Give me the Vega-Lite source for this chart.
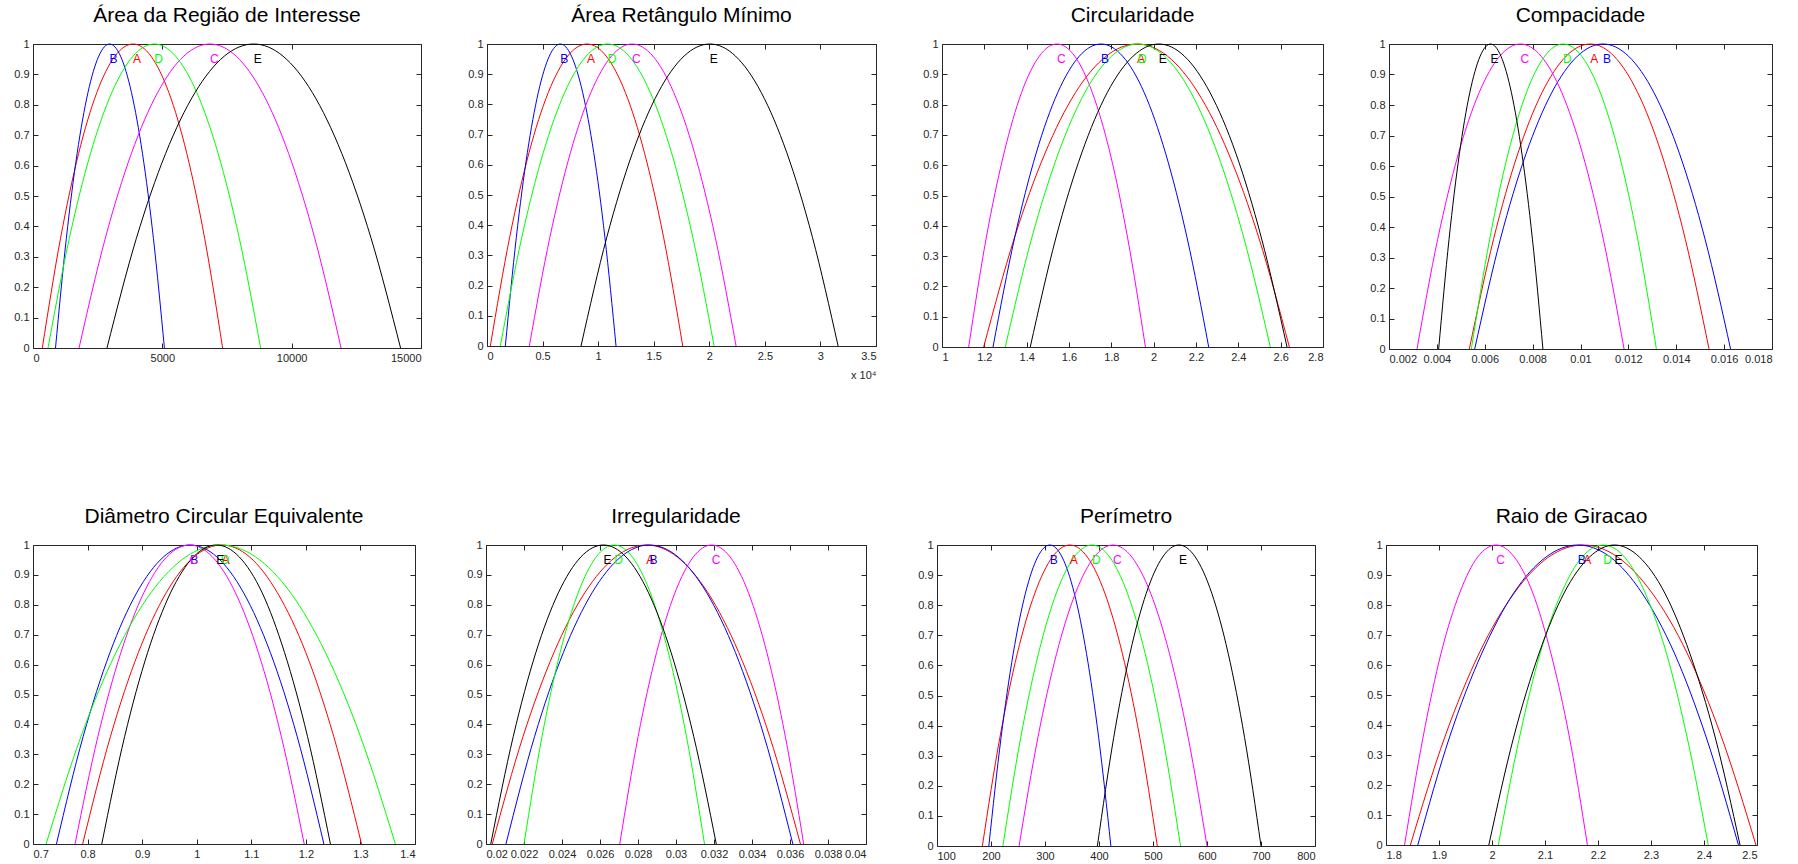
{
"$schema": "https://vega.github.io/schema/vega-lite/v6.json",
"padding": {"left": 0, "top": 4, "right": 0, "bottom": 0},
"background": "white",
"config": {
  "view": {"stroke": "#262626", "strokeWidth": 1},
  "font": "Liberation Sans",
  "title": {"font": "Liberation Sans", "fontSize": 21, "fontWeight": "normal", "color": "#000000", "anchor": "middle", "offset": 12},
  "axis": {"grid": false, "domain": false, "labelFont": "Liberation Sans", "labelFontSize": 11, "labelColor": "#262626", "tickColor": "#262626", "tickSize": -5, "labelPadding": 9, "labelOverlap": false},
  "line": {"strokeWidth": 1, "interpolate": "monotone"}
},
"data": {"values": [
{"p":1,"c":"A","x":360,"y":0},{"p":1,"c":"A","x":1062,"y":0.36},{"p":1,"c":"A","x":1764,"y":0.64},{"p":1,"c":"A","x":2466,"y":0.84},{"p":1,"c":"A","x":3168,"y":0.96},{"p":1,"c":"A","x":3870,"y":1},{"p":1,"c":"A","x":4562,"y":0.96},{"p":1,"c":"A","x":5254,"y":0.84},{"p":1,"c":"A","x":5946,"y":0.64},{"p":1,"c":"A","x":6638,"y":0.36},{"p":1,"c":"A","x":7330,"y":0},
{"p":1,"c":"B","x":870,"y":0},{"p":1,"c":"B","x":1288,"y":0.36},{"p":1,"c":"B","x":1706,"y":0.64},{"p":1,"c":"B","x":2124,"y":0.84},{"p":1,"c":"B","x":2542,"y":0.96},{"p":1,"c":"B","x":2960,"y":1},{"p":1,"c":"B","x":3384,"y":0.96},{"p":1,"c":"B","x":3808,"y":0.84},{"p":1,"c":"B","x":4232,"y":0.64},{"p":1,"c":"B","x":4656,"y":0.36},{"p":1,"c":"B","x":5080,"y":0},
{"p":1,"c":"C","x":1780,"y":0},{"p":1,"c":"C","x":2792,"y":0.36},{"p":1,"c":"C","x":3804,"y":0.64},{"p":1,"c":"C","x":4816,"y":0.84},{"p":1,"c":"C","x":5828,"y":0.96},{"p":1,"c":"C","x":6840,"y":1},{"p":1,"c":"C","x":7854,"y":0.96},{"p":1,"c":"C","x":8868,"y":0.84},{"p":1,"c":"C","x":9882,"y":0.64},{"p":1,"c":"C","x":10896,"y":0.36},{"p":1,"c":"C","x":11910,"y":0},
{"p":1,"c":"D","x":580,"y":0},{"p":1,"c":"D","x":1402,"y":0.36},{"p":1,"c":"D","x":2224,"y":0.64},{"p":1,"c":"D","x":3046,"y":0.84},{"p":1,"c":"D","x":3868,"y":0.96},{"p":1,"c":"D","x":4690,"y":1},{"p":1,"c":"D","x":5512,"y":0.96},{"p":1,"c":"D","x":6334,"y":0.84},{"p":1,"c":"D","x":7156,"y":0.64},{"p":1,"c":"D","x":7978,"y":0.36},{"p":1,"c":"D","x":8800,"y":0},
{"p":1,"c":"E","x":2860,"y":0},{"p":1,"c":"E","x":3994,"y":0.36},{"p":1,"c":"E","x":5128,"y":0.64},{"p":1,"c":"E","x":6262,"y":0.84},{"p":1,"c":"E","x":7396,"y":0.96},{"p":1,"c":"E","x":8530,"y":1},{"p":1,"c":"E","x":9666,"y":0.96},{"p":1,"c":"E","x":10802,"y":0.84},{"p":1,"c":"E","x":11938,"y":0.64},{"p":1,"c":"E","x":13074,"y":0.36},{"p":1,"c":"E","x":14210,"y":0},
{"p":2,"c":"A","x":300,"y":0},{"p":2,"c":"A","x":2040,"y":0.36},{"p":2,"c":"A","x":3780,"y":0.64},{"p":2,"c":"A","x":5520,"y":0.84},{"p":2,"c":"A","x":7260,"y":0.96},{"p":2,"c":"A","x":9000,"y":1},{"p":2,"c":"A","x":10722,"y":0.96},{"p":2,"c":"A","x":12444,"y":0.84},{"p":2,"c":"A","x":14166,"y":0.64},{"p":2,"c":"A","x":15888,"y":0.36},{"p":2,"c":"A","x":17610,"y":0},
{"p":2,"c":"B","x":1650,"y":0},{"p":2,"c":"B","x":2640,"y":0.36},{"p":2,"c":"B","x":3630,"y":0.64},{"p":2,"c":"B","x":4620,"y":0.84},{"p":2,"c":"B","x":5610,"y":0.96},{"p":2,"c":"B","x":6600,"y":1},{"p":2,"c":"B","x":7602,"y":0.96},{"p":2,"c":"B","x":8604,"y":0.84},{"p":2,"c":"B","x":9606,"y":0.64},{"p":2,"c":"B","x":10608,"y":0.36},{"p":2,"c":"B","x":11610,"y":0},
{"p":2,"c":"C","x":3810,"y":0},{"p":2,"c":"C","x":5658,"y":0.36},{"p":2,"c":"C","x":7506,"y":0.64},{"p":2,"c":"C","x":9354,"y":0.84},{"p":2,"c":"C","x":11202,"y":0.96},{"p":2,"c":"C","x":13050,"y":1},{"p":2,"c":"C","x":14922,"y":0.96},{"p":2,"c":"C","x":16794,"y":0.84},{"p":2,"c":"C","x":18666,"y":0.64},{"p":2,"c":"C","x":20538,"y":0.36},{"p":2,"c":"C","x":22410,"y":0},
{"p":2,"c":"D","x":1200,"y":0},{"p":2,"c":"D","x":3132,"y":0.36},{"p":2,"c":"D","x":5064,"y":0.64},{"p":2,"c":"D","x":6996,"y":0.84},{"p":2,"c":"D","x":8928,"y":0.96},{"p":2,"c":"D","x":10860,"y":1},{"p":2,"c":"D","x":12774,"y":0.96},{"p":2,"c":"D","x":14688,"y":0.84},{"p":2,"c":"D","x":16602,"y":0.64},{"p":2,"c":"D","x":18516,"y":0.36},{"p":2,"c":"D","x":20430,"y":0},
{"p":2,"c":"E","x":8460,"y":0},{"p":2,"c":"E","x":10778,"y":0.36},{"p":2,"c":"E","x":13096,"y":0.64},{"p":2,"c":"E","x":15414,"y":0.84},{"p":2,"c":"E","x":17732,"y":0.96},{"p":2,"c":"E","x":20050,"y":1},{"p":2,"c":"E","x":22358,"y":0.96},{"p":2,"c":"E","x":24666,"y":0.84},{"p":2,"c":"E","x":26974,"y":0.64},{"p":2,"c":"E","x":29282,"y":0.36},{"p":2,"c":"E","x":31590,"y":0},
{"p":3,"c":"A","x":1.197,"y":0},{"p":3,"c":"A","x":1.342,"y":0.36},{"p":3,"c":"A","x":1.487,"y":0.64},{"p":3,"c":"A","x":1.631,"y":0.84},{"p":3,"c":"A","x":1.776,"y":0.96},{"p":3,"c":"A","x":1.921,"y":1},{"p":3,"c":"A","x":2.065,"y":0.96},{"p":3,"c":"A","x":2.209,"y":0.84},{"p":3,"c":"A","x":2.353,"y":0.64},{"p":3,"c":"A","x":2.497,"y":0.36},{"p":3,"c":"A","x":2.641,"y":0},
{"p":3,"c":"B","x":1.241,"y":0},{"p":3,"c":"B","x":1.343,"y":0.36},{"p":3,"c":"B","x":1.445,"y":0.64},{"p":3,"c":"B","x":1.547,"y":0.84},{"p":3,"c":"B","x":1.649,"y":0.96},{"p":3,"c":"B","x":1.751,"y":1},{"p":3,"c":"B","x":1.853,"y":0.96},{"p":3,"c":"B","x":1.955,"y":0.84},{"p":3,"c":"B","x":2.056,"y":0.64},{"p":3,"c":"B","x":2.158,"y":0.36},{"p":3,"c":"B","x":2.26,"y":0},
{"p":3,"c":"C","x":1.126,"y":0},{"p":3,"c":"C","x":1.209,"y":0.36},{"p":3,"c":"C","x":1.293,"y":0.64},{"p":3,"c":"C","x":1.376,"y":0.84},{"p":3,"c":"C","x":1.46,"y":0.96},{"p":3,"c":"C","x":1.543,"y":1},{"p":3,"c":"C","x":1.627,"y":0.96},{"p":3,"c":"C","x":1.71,"y":0.84},{"p":3,"c":"C","x":1.794,"y":0.64},{"p":3,"c":"C","x":1.877,"y":0.36},{"p":3,"c":"C","x":1.961,"y":0},
{"p":3,"c":"D","x":1.299,"y":0},{"p":3,"c":"D","x":1.424,"y":0.36},{"p":3,"c":"D","x":1.55,"y":0.64},{"p":3,"c":"D","x":1.675,"y":0.84},{"p":3,"c":"D","x":1.801,"y":0.96},{"p":3,"c":"D","x":1.926,"y":1},{"p":3,"c":"D","x":2.051,"y":0.96},{"p":3,"c":"D","x":2.176,"y":0.84},{"p":3,"c":"D","x":2.301,"y":0.64},{"p":3,"c":"D","x":2.426,"y":0.36},{"p":3,"c":"D","x":2.551,"y":0},
{"p":3,"c":"E","x":1.417,"y":0},{"p":3,"c":"E","x":1.538,"y":0.36},{"p":3,"c":"E","x":1.66,"y":0.64},{"p":3,"c":"E","x":1.781,"y":0.84},{"p":3,"c":"E","x":1.903,"y":0.96},{"p":3,"c":"E","x":2.024,"y":1},{"p":3,"c":"E","x":2.145,"y":0.96},{"p":3,"c":"E","x":2.266,"y":0.84},{"p":3,"c":"E","x":2.388,"y":0.64},{"p":3,"c":"E","x":2.509,"y":0.36},{"p":3,"c":"E","x":2.63,"y":0},
{"p":4,"c":"A","x":0.005356,"y":0},{"p":4,"c":"A","x":0.006367,"y":0.36},{"p":4,"c":"A","x":0.007378,"y":0.64},{"p":4,"c":"A","x":0.008388,"y":0.84},{"p":4,"c":"A","x":0.009399,"y":0.96},{"p":4,"c":"A","x":0.01041,"y":1},{"p":4,"c":"A","x":0.011402,"y":0.96},{"p":4,"c":"A","x":0.012394,"y":0.84},{"p":4,"c":"A","x":0.013386,"y":0.64},{"p":4,"c":"A","x":0.014378,"y":0.36},{"p":4,"c":"A","x":0.01537,"y":0},
{"p":4,"c":"B","x":0.00558,"y":0},{"p":4,"c":"B","x":0.006652,"y":0.36},{"p":4,"c":"B","x":0.007724,"y":0.64},{"p":4,"c":"B","x":0.008796,"y":0.84},{"p":4,"c":"B","x":0.009868,"y":0.96},{"p":4,"c":"B","x":0.01094,"y":1},{"p":4,"c":"B","x":0.012006,"y":0.96},{"p":4,"c":"B","x":0.013072,"y":0.84},{"p":4,"c":"B","x":0.014138,"y":0.64},{"p":4,"c":"B","x":0.015204,"y":0.36},{"p":4,"c":"B","x":0.01627,"y":0},
{"p":4,"c":"C","x":0.00317,"y":0},{"p":4,"c":"C","x":0.004034,"y":0.36},{"p":4,"c":"C","x":0.004898,"y":0.64},{"p":4,"c":"C","x":0.005762,"y":0.84},{"p":4,"c":"C","x":0.006626,"y":0.96},{"p":4,"c":"C","x":0.00749,"y":1},{"p":4,"c":"C","x":0.008356,"y":0.96},{"p":4,"c":"C","x":0.009222,"y":0.84},{"p":4,"c":"C","x":0.010088,"y":0.64},{"p":4,"c":"C","x":0.010954,"y":0.36},{"p":4,"c":"C","x":0.01182,"y":0},
{"p":4,"c":"D","x":0.00544,"y":0},{"p":4,"c":"D","x":0.006206,"y":0.36},{"p":4,"c":"D","x":0.006972,"y":0.64},{"p":4,"c":"D","x":0.007738,"y":0.84},{"p":4,"c":"D","x":0.008504,"y":0.96},{"p":4,"c":"D","x":0.00927,"y":1},{"p":4,"c":"D","x":0.01005,"y":0.96},{"p":4,"c":"D","x":0.01083,"y":0.84},{"p":4,"c":"D","x":0.01161,"y":0.64},{"p":4,"c":"D","x":0.01239,"y":0.36},{"p":4,"c":"D","x":0.01317,"y":0},
{"p":4,"c":"E","x":0.004075,"y":0},{"p":4,"c":"E","x":0.004508,"y":0.36},{"p":4,"c":"E","x":0.004941,"y":0.64},{"p":4,"c":"E","x":0.005374,"y":0.84},{"p":4,"c":"E","x":0.005807,"y":0.96},{"p":4,"c":"E","x":0.00624,"y":1},{"p":4,"c":"E","x":0.006678,"y":0.96},{"p":4,"c":"E","x":0.007116,"y":0.84},{"p":4,"c":"E","x":0.007554,"y":0.64},{"p":4,"c":"E","x":0.007992,"y":0.36},{"p":4,"c":"E","x":0.00843,"y":0},
{"p":5,"c":"A","x":0.791,"y":0},{"p":5,"c":"A","x":0.842,"y":0.36},{"p":5,"c":"A","x":0.893,"y":0.64},{"p":5,"c":"A","x":0.944,"y":0.84},{"p":5,"c":"A","x":0.995,"y":0.96},{"p":5,"c":"A","x":1.046,"y":1},{"p":5,"c":"A","x":1.097,"y":0.96},{"p":5,"c":"A","x":1.148,"y":0.84},{"p":5,"c":"A","x":1.2,"y":0.64},{"p":5,"c":"A","x":1.251,"y":0.36},{"p":5,"c":"A","x":1.302,"y":0},
{"p":5,"c":"B","x":0.743,"y":0},{"p":5,"c":"B","x":0.792,"y":0.36},{"p":5,"c":"B","x":0.841,"y":0.64},{"p":5,"c":"B","x":0.89,"y":0.84},{"p":5,"c":"B","x":0.939,"y":0.96},{"p":5,"c":"B","x":0.988,"y":1},{"p":5,"c":"B","x":1.037,"y":0.96},{"p":5,"c":"B","x":1.086,"y":0.84},{"p":5,"c":"B","x":1.135,"y":0.64},{"p":5,"c":"B","x":1.184,"y":0.36},{"p":5,"c":"B","x":1.233,"y":0},
{"p":5,"c":"C","x":0.777,"y":0},{"p":5,"c":"C","x":0.819,"y":0.36},{"p":5,"c":"C","x":0.861,"y":0.64},{"p":5,"c":"C","x":0.903,"y":0.84},{"p":5,"c":"C","x":0.945,"y":0.96},{"p":5,"c":"C","x":0.987,"y":1},{"p":5,"c":"C","x":1.029,"y":0.96},{"p":5,"c":"C","x":1.071,"y":0.84},{"p":5,"c":"C","x":1.113,"y":0.64},{"p":5,"c":"C","x":1.155,"y":0.36},{"p":5,"c":"C","x":1.197,"y":0},
{"p":5,"c":"D","x":0.724,"y":0},{"p":5,"c":"D","x":0.788,"y":0.36},{"p":5,"c":"D","x":0.852,"y":0.64},{"p":5,"c":"D","x":0.916,"y":0.84},{"p":5,"c":"D","x":0.98,"y":0.96},{"p":5,"c":"D","x":1.044,"y":1},{"p":5,"c":"D","x":1.108,"y":0.96},{"p":5,"c":"D","x":1.172,"y":0.84},{"p":5,"c":"D","x":1.236,"y":0.64},{"p":5,"c":"D","x":1.3,"y":0.36},{"p":5,"c":"D","x":1.364,"y":0},
{"p":5,"c":"E","x":0.826,"y":0},{"p":5,"c":"E","x":0.868,"y":0.36},{"p":5,"c":"E","x":0.91,"y":0.64},{"p":5,"c":"E","x":0.952,"y":0.84},{"p":5,"c":"E","x":0.994,"y":0.96},{"p":5,"c":"E","x":1.036,"y":1},{"p":5,"c":"E","x":1.078,"y":0.96},{"p":5,"c":"E","x":1.12,"y":0.84},{"p":5,"c":"E","x":1.161,"y":0.64},{"p":5,"c":"E","x":1.203,"y":0.36},{"p":5,"c":"E","x":1.245,"y":0},
{"p":6,"c":"A","x":0.02033,"y":0},{"p":6,"c":"A","x":0.021952,"y":0.36},{"p":6,"c":"A","x":0.023574,"y":0.64},{"p":6,"c":"A","x":0.025196,"y":0.84},{"p":6,"c":"A","x":0.026818,"y":0.96},{"p":6,"c":"A","x":0.02844,"y":1},{"p":6,"c":"A","x":0.030062,"y":0.96},{"p":6,"c":"A","x":0.031684,"y":0.84},{"p":6,"c":"A","x":0.033306,"y":0.64},{"p":6,"c":"A","x":0.034928,"y":0.36},{"p":6,"c":"A","x":0.03655,"y":0},
{"p":6,"c":"B","x":0.02105,"y":0},{"p":6,"c":"B","x":0.02256,"y":0.36},{"p":6,"c":"B","x":0.02407,"y":0.64},{"p":6,"c":"B","x":0.02558,"y":0.84},{"p":6,"c":"B","x":0.02709,"y":0.96},{"p":6,"c":"B","x":0.0286,"y":1},{"p":6,"c":"B","x":0.03011,"y":0.96},{"p":6,"c":"B","x":0.03162,"y":0.84},{"p":6,"c":"B","x":0.03313,"y":0.64},{"p":6,"c":"B","x":0.03464,"y":0.36},{"p":6,"c":"B","x":0.03615,"y":0},
{"p":6,"c":"C","x":0.02704,"y":0},{"p":6,"c":"C","x":0.028008,"y":0.36},{"p":6,"c":"C","x":0.028976,"y":0.64},{"p":6,"c":"C","x":0.029944,"y":0.84},{"p":6,"c":"C","x":0.030912,"y":0.96},{"p":6,"c":"C","x":0.03188,"y":1},{"p":6,"c":"C","x":0.032848,"y":0.96},{"p":6,"c":"C","x":0.033816,"y":0.84},{"p":6,"c":"C","x":0.034784,"y":0.64},{"p":6,"c":"C","x":0.035752,"y":0.36},{"p":6,"c":"C","x":0.03672,"y":0},
{"p":6,"c":"D","x":0.022,"y":0},{"p":6,"c":"D","x":0.02295,"y":0.36},{"p":6,"c":"D","x":0.0239,"y":0.64},{"p":6,"c":"D","x":0.02485,"y":0.84},{"p":6,"c":"D","x":0.0258,"y":0.96},{"p":6,"c":"D","x":0.02675,"y":1},{"p":6,"c":"D","x":0.0277,"y":0.96},{"p":6,"c":"D","x":0.02865,"y":0.84},{"p":6,"c":"D","x":0.0296,"y":0.64},{"p":6,"c":"D","x":0.03055,"y":0.36},{"p":6,"c":"D","x":0.0315,"y":0},
{"p":6,"c":"E","x":0.02025,"y":0},{"p":6,"c":"E","x":0.021436,"y":0.36},{"p":6,"c":"E","x":0.022622,"y":0.64},{"p":6,"c":"E","x":0.023808,"y":0.84},{"p":6,"c":"E","x":0.024994,"y":0.96},{"p":6,"c":"E","x":0.02618,"y":1},{"p":6,"c":"E","x":0.027368,"y":0.96},{"p":6,"c":"E","x":0.028556,"y":0.84},{"p":6,"c":"E","x":0.029744,"y":0.64},{"p":6,"c":"E","x":0.030932,"y":0.36},{"p":6,"c":"E","x":0.03212,"y":0},
{"p":7,"c":"A","x":184,"y":0},{"p":7,"c":"A","x":216.4,"y":0.36},{"p":7,"c":"A","x":248.8,"y":0.64},{"p":7,"c":"A","x":281.2,"y":0.84},{"p":7,"c":"A","x":313.6,"y":0.96},{"p":7,"c":"A","x":346,"y":1},{"p":7,"c":"A","x":378.4,"y":0.96},{"p":7,"c":"A","x":410.8,"y":0.84},{"p":7,"c":"A","x":443.2,"y":0.64},{"p":7,"c":"A","x":475.6,"y":0.36},{"p":7,"c":"A","x":508,"y":0},
{"p":7,"c":"B","x":196,"y":0},{"p":7,"c":"B","x":218.6,"y":0.36},{"p":7,"c":"B","x":241.2,"y":0.64},{"p":7,"c":"B","x":263.8,"y":0.84},{"p":7,"c":"B","x":286.4,"y":0.96},{"p":7,"c":"B","x":309,"y":1},{"p":7,"c":"B","x":331.6,"y":0.96},{"p":7,"c":"B","x":354.2,"y":0.84},{"p":7,"c":"B","x":376.8,"y":0.64},{"p":7,"c":"B","x":399.4,"y":0.36},{"p":7,"c":"B","x":422,"y":0},
{"p":7,"c":"C","x":252,"y":0},{"p":7,"c":"C","x":286.8,"y":0.36},{"p":7,"c":"C","x":321.6,"y":0.64},{"p":7,"c":"C","x":356.4,"y":0.84},{"p":7,"c":"C","x":391.2,"y":0.96},{"p":7,"c":"C","x":426,"y":1},{"p":7,"c":"C","x":460.8,"y":0.96},{"p":7,"c":"C","x":495.6,"y":0.84},{"p":7,"c":"C","x":530.4,"y":0.64},{"p":7,"c":"C","x":565.2,"y":0.36},{"p":7,"c":"C","x":600,"y":0},
{"p":7,"c":"D","x":222,"y":0},{"p":7,"c":"D","x":255,"y":0.36},{"p":7,"c":"D","x":288,"y":0.64},{"p":7,"c":"D","x":321,"y":0.84},{"p":7,"c":"D","x":354,"y":0.96},{"p":7,"c":"D","x":387,"y":1},{"p":7,"c":"D","x":419.8,"y":0.96},{"p":7,"c":"D","x":452.6,"y":0.84},{"p":7,"c":"D","x":485.4,"y":0.64},{"p":7,"c":"D","x":518.2,"y":0.36},{"p":7,"c":"D","x":551,"y":0},
{"p":7,"c":"E","x":397,"y":0},{"p":7,"c":"E","x":427.2,"y":0.36},{"p":7,"c":"E","x":457.4,"y":0.64},{"p":7,"c":"E","x":487.6,"y":0.84},{"p":7,"c":"E","x":517.8,"y":0.96},{"p":7,"c":"E","x":548,"y":1},{"p":7,"c":"E","x":578.4,"y":0.96},{"p":7,"c":"E","x":608.8,"y":0.84},{"p":7,"c":"E","x":639.2,"y":0.64},{"p":7,"c":"E","x":669.6,"y":0.36},{"p":7,"c":"E","x":700,"y":0},
{"p":8,"c":"A","x":1.846,"y":0},{"p":8,"c":"A","x":1.911,"y":0.36},{"p":8,"c":"A","x":1.976,"y":0.64},{"p":8,"c":"A","x":2.042,"y":0.84},{"p":8,"c":"A","x":2.107,"y":0.96},{"p":8,"c":"A","x":2.172,"y":1},{"p":8,"c":"A","x":2.237,"y":0.96},{"p":8,"c":"A","x":2.302,"y":0.84},{"p":8,"c":"A","x":2.368,"y":0.64},{"p":8,"c":"A","x":2.433,"y":0.36},{"p":8,"c":"A","x":2.498,"y":0},
{"p":8,"c":"B","x":1.86,"y":0},{"p":8,"c":"B","x":1.92,"y":0.36},{"p":8,"c":"B","x":1.981,"y":0.64},{"p":8,"c":"B","x":2.041,"y":0.84},{"p":8,"c":"B","x":2.102,"y":0.96},{"p":8,"c":"B","x":2.162,"y":1},{"p":8,"c":"B","x":2.223,"y":0.96},{"p":8,"c":"B","x":2.283,"y":0.84},{"p":8,"c":"B","x":2.344,"y":0.64},{"p":8,"c":"B","x":2.404,"y":0.36},{"p":8,"c":"B","x":2.465,"y":0},
{"p":8,"c":"C","x":1.835,"y":0},{"p":8,"c":"C","x":1.87,"y":0.36},{"p":8,"c":"C","x":1.904,"y":0.64},{"p":8,"c":"C","x":1.939,"y":0.84},{"p":8,"c":"C","x":1.973,"y":0.96},{"p":8,"c":"C","x":2.008,"y":1},{"p":8,"c":"C","x":2.042,"y":0.96},{"p":8,"c":"C","x":2.077,"y":0.84},{"p":8,"c":"C","x":2.111,"y":0.64},{"p":8,"c":"C","x":2.146,"y":0.36},{"p":8,"c":"C","x":2.18,"y":0},
{"p":8,"c":"D","x":2.012,"y":0},{"p":8,"c":"D","x":2.052,"y":0.36},{"p":8,"c":"D","x":2.091,"y":0.64},{"p":8,"c":"D","x":2.131,"y":0.84},{"p":8,"c":"D","x":2.17,"y":0.96},{"p":8,"c":"D","x":2.21,"y":1},{"p":8,"c":"D","x":2.25,"y":0.96},{"p":8,"c":"D","x":2.289,"y":0.84},{"p":8,"c":"D","x":2.329,"y":0.64},{"p":8,"c":"D","x":2.368,"y":0.36},{"p":8,"c":"D","x":2.408,"y":0},
{"p":8,"c":"E","x":1.994,"y":0},{"p":8,"c":"E","x":2.041,"y":0.36},{"p":8,"c":"E","x":2.089,"y":0.64},{"p":8,"c":"E","x":2.136,"y":0.84},{"p":8,"c":"E","x":2.184,"y":0.96},{"p":8,"c":"E","x":2.231,"y":1},{"p":8,"c":"E","x":2.278,"y":0.96},{"p":8,"c":"E","x":2.326,"y":0.84},{"p":8,"c":"E","x":2.373,"y":0.64},{"p":8,"c":"E","x":2.421,"y":0.36},{"p":8,"c":"E","x":2.468,"y":0}
]},
"spacing": 124,
"vconcat": [
{"spacing": 66, "bounds": "flush", "hconcat": [
{"title": "Área da Região de Interesse", "width": 388, "height": 304,
 "transform": [{"filter": "datum.p == 1"}],
 "encoding": {"color": {"field": "c", "type": "nominal", "legend": null, "scale": {"domain": ["A","B","C","D","E"], "range": ["#ff0000","#0000ff","#ff00ff","#00ff00","#000000"]}}},
 "layer": [
  {"mark": "line", "encoding": {
    "x": {"field": "x", "type": "quantitative", "scale": {"domain": [0, 15000], "nice": false, "zero": false}, "axis": {"title": null, "values": [0,5000,10000,15000], "format": "d"}},
    "y": {"field": "y", "type": "quantitative", "scale": {"domain": [0, 1], "nice": false}, "axis": {"title": null, "values": [0,0.1,0.2,0.3,0.4,0.5,0.6,0.7,0.8,0.9,1], "format": "~g", "minExtent": 32, "maxExtent": 32}}}},
  {"transform": [{"filter": "datum.y == 1"}], "mark": {"type": "text", "align": "left", "baseline": "middle", "dy": 15, "fontSize": 12, "font": "Liberation Sans"}, "encoding": {
    "x": {"field": "x", "type": "quantitative", "axis": {"title": null, "orient": "top", "labels": false, "values": [0,5000,10000,15000], "minExtent": 0, "maxExtent": 0}},
    "y": {"field": "y", "type": "quantitative", "axis": {"title": null, "orient": "right", "labels": false, "values": [0,0.1,0.2,0.3,0.4,0.5,0.6,0.7,0.8,0.9,1], "minExtent": 0, "maxExtent": 0}},
    "text": {"field": "c"}}}
 ],
 "resolve": {"axis": {"x": "independent", "y": "independent"}}},
{"title": "Área Retângulo Mínimo", "width": 389, "height": 302,
 "transform": [{"filter": "datum.p == 2"}],
 "encoding": {"color": {"field": "c", "type": "nominal", "legend": null, "scale": {"domain": ["A","B","C","D","E"], "range": ["#ff0000","#0000ff","#ff00ff","#00ff00","#000000"]}}},
 "layer": [
  {"mark": "line", "encoding": {
    "x": {"field": "x", "type": "quantitative", "scale": {"domain": [0, 35000], "nice": false, "zero": false}, "axis": {"title": "x 10⁴", "titleAnchor": "end", "titleFontSize": 11, "titleFontWeight": "normal", "titleColor": "#262626", "titleFont": "Liberation Sans", "titlePadding": 8, "values": [0,5000,10000,15000,20000,25000,30000,35000], "labelExpr": "format(datum.value / 10000, '~g')"}},
    "y": {"field": "y", "type": "quantitative", "scale": {"domain": [0, 1], "nice": false}, "axis": {"title": null, "values": [0,0.1,0.2,0.3,0.4,0.5,0.6,0.7,0.8,0.9,1], "format": "~g", "minExtent": 31, "maxExtent": 31}}}},
  {"transform": [{"filter": "datum.y == 1"}], "mark": {"type": "text", "align": "left", "baseline": "middle", "dy": 15, "fontSize": 12, "font": "Liberation Sans"}, "encoding": {
    "x": {"field": "x", "type": "quantitative", "axis": {"title": null, "orient": "top", "labels": false, "values": [0,5000,10000,15000,20000,25000,30000,35000], "minExtent": 0, "maxExtent": 0}},
    "y": {"field": "y", "type": "quantitative", "axis": {"title": null, "orient": "right", "labels": false, "values": [0,0.1,0.2,0.3,0.4,0.5,0.6,0.7,0.8,0.9,1], "minExtent": 0, "maxExtent": 0}},
    "text": {"field": "c"}}}
 ],
 "resolve": {"axis": {"x": "independent", "y": "independent"}}},
{"title": "Circularidade", "width": 381, "height": 303,
 "transform": [{"filter": "datum.p == 3"}],
 "encoding": {"color": {"field": "c", "type": "nominal", "legend": null, "scale": {"domain": ["A","B","C","D","E"], "range": ["#ff0000","#0000ff","#ff00ff","#00ff00","#000000"]}}},
 "layer": [
  {"mark": "line", "encoding": {
    "x": {"field": "x", "type": "quantitative", "scale": {"domain": [1, 2.8], "nice": false, "zero": false}, "axis": {"title": null, "values": [1,1.2,1.4,1.6,1.8,2,2.2,2.4,2.6,2.8], "format": "~g"}},
    "y": {"field": "y", "type": "quantitative", "scale": {"domain": [0, 1], "nice": false}, "axis": {"title": null, "values": [0,0.1,0.2,0.3,0.4,0.5,0.6,0.7,0.8,0.9,1], "format": "~g", "minExtent": 31, "maxExtent": 31}}}},
  {"transform": [{"filter": "datum.y == 1"}], "mark": {"type": "text", "align": "left", "baseline": "middle", "dy": 15, "fontSize": 12, "font": "Liberation Sans"}, "encoding": {
    "x": {"field": "x", "type": "quantitative", "axis": {"title": null, "orient": "top", "labels": false, "values": [1,1.2,1.4,1.6,1.8,2,2.2,2.4,2.6,2.8], "minExtent": 0, "maxExtent": 0}},
    "y": {"field": "y", "type": "quantitative", "axis": {"title": null, "orient": "right", "labels": false, "values": [0,0.1,0.2,0.3,0.4,0.5,0.6,0.7,0.8,0.9,1], "minExtent": 0, "maxExtent": 0}},
    "text": {"field": "c"}}}
 ],
 "resolve": {"axis": {"x": "independent", "y": "independent"}}},
{"title": "Compacidade", "width": 383, "height": 305,
 "transform": [{"filter": "datum.p == 4"}],
 "encoding": {"color": {"field": "c", "type": "nominal", "legend": null, "scale": {"domain": ["A","B","C","D","E"], "range": ["#ff0000","#0000ff","#ff00ff","#00ff00","#000000"]}}},
 "layer": [
  {"mark": "line", "encoding": {
    "x": {"field": "x", "type": "quantitative", "scale": {"domain": [0.002, 0.018], "nice": false, "zero": false}, "axis": {"title": null, "values": [0.002,0.004,0.006,0.008,0.01,0.012,0.014,0.016,0.018], "format": "~g"}},
    "y": {"field": "y", "type": "quantitative", "scale": {"domain": [0, 1], "nice": false}, "axis": {"title": null, "values": [0,0.1,0.2,0.3,0.4,0.5,0.6,0.7,0.8,0.9,1], "format": "~g", "minExtent": 31, "maxExtent": 31}}}},
  {"transform": [{"filter": "datum.y == 1"}], "mark": {"type": "text", "align": "left", "baseline": "middle", "dy": 15, "fontSize": 12, "font": "Liberation Sans"}, "encoding": {
    "x": {"field": "x", "type": "quantitative", "axis": {"title": null, "orient": "top", "labels": false, "values": [0.002,0.004,0.006,0.008,0.01,0.012,0.014,0.016,0.018], "minExtent": 0, "maxExtent": 0}},
    "y": {"field": "y", "type": "quantitative", "axis": {"title": null, "orient": "right", "labels": false, "values": [0,0.1,0.2,0.3,0.4,0.5,0.6,0.7,0.8,0.9,1], "minExtent": 0, "maxExtent": 0}},
    "text": {"field": "c"}}}
 ],
 "resolve": {"axis": {"x": "independent", "y": "independent"}}}
]},
{"spacing": 71, "bounds": "flush", "hconcat": [
{"title": "Diâmetro Circular Equivalente", "width": 382, "height": 299,
 "transform": [{"filter": "datum.p == 5"}],
 "encoding": {"color": {"field": "c", "type": "nominal", "legend": null, "scale": {"domain": ["A","B","C","D","E"], "range": ["#ff0000","#0000ff","#ff00ff","#00ff00","#000000"]}}},
 "layer": [
  {"mark": "line", "encoding": {
    "x": {"field": "x", "type": "quantitative", "scale": {"domain": [0.7, 1.4], "nice": false, "zero": false}, "axis": {"title": null, "values": [0.7,0.8,0.9,1,1.1,1.2,1.3,1.4], "format": "~g"}},
    "y": {"field": "y", "type": "quantitative", "scale": {"domain": [0, 1], "nice": false}, "axis": {"title": null, "values": [0,0.1,0.2,0.3,0.4,0.5,0.6,0.7,0.8,0.9,1], "format": "~g", "minExtent": 32, "maxExtent": 32}}}},
  {"transform": [{"filter": "datum.y == 1"}], "mark": {"type": "text", "align": "left", "baseline": "middle", "dy": 15, "fontSize": 12, "font": "Liberation Sans"}, "encoding": {
    "x": {"field": "x", "type": "quantitative", "axis": {"title": null, "orient": "top", "labels": false, "values": [0.7,0.8,0.9,1,1.1,1.2,1.3,1.4], "minExtent": 0, "maxExtent": 0}},
    "y": {"field": "y", "type": "quantitative", "axis": {"title": null, "orient": "right", "labels": false, "values": [0,0.1,0.2,0.3,0.4,0.5,0.6,0.7,0.8,0.9,1], "minExtent": 0, "maxExtent": 0}},
    "text": {"field": "c"}}}
 ],
 "resolve": {"axis": {"x": "independent", "y": "independent"}}},
{"title": "Irregularidade", "width": 380, "height": 299,
 "transform": [{"filter": "datum.p == 6"}],
 "encoding": {"color": {"field": "c", "type": "nominal", "legend": null, "scale": {"domain": ["A","B","C","D","E"], "range": ["#ff0000","#0000ff","#ff00ff","#00ff00","#000000"]}}},
 "layer": [
  {"mark": "line", "encoding": {
    "x": {"field": "x", "type": "quantitative", "scale": {"domain": [0.02, 0.04], "nice": false, "zero": false}, "axis": {"title": null, "values": [0.02,0.022,0.024,0.026,0.028,0.03,0.032,0.034,0.036,0.038,0.04], "format": "~g"}},
    "y": {"field": "y", "type": "quantitative", "scale": {"domain": [0, 1], "nice": false}, "axis": {"title": null, "values": [0,0.1,0.2,0.3,0.4,0.5,0.6,0.7,0.8,0.9,1], "format": "~g", "minExtent": 31, "maxExtent": 31}}}},
  {"transform": [{"filter": "datum.y == 1"}], "mark": {"type": "text", "align": "left", "baseline": "middle", "dy": 15, "fontSize": 12, "font": "Liberation Sans"}, "encoding": {
    "x": {"field": "x", "type": "quantitative", "axis": {"title": null, "orient": "top", "labels": false, "values": [0.02,0.022,0.024,0.026,0.028,0.03,0.032,0.034,0.036,0.038,0.04], "minExtent": 0, "maxExtent": 0}},
    "y": {"field": "y", "type": "quantitative", "axis": {"title": null, "orient": "right", "labels": false, "values": [0,0.1,0.2,0.3,0.4,0.5,0.6,0.7,0.8,0.9,1], "minExtent": 0, "maxExtent": 0}},
    "text": {"field": "c"}}}
 ],
 "resolve": {"axis": {"x": "independent", "y": "independent"}}},
{"title": "Perímetro", "width": 378, "height": 301,
 "transform": [{"filter": "datum.p == 7"}],
 "encoding": {"color": {"field": "c", "type": "nominal", "legend": null, "scale": {"domain": ["A","B","C","D","E"], "range": ["#ff0000","#0000ff","#ff00ff","#00ff00","#000000"]}}},
 "layer": [
  {"mark": "line", "encoding": {
    "x": {"field": "x", "type": "quantitative", "scale": {"domain": [100, 800], "nice": false, "zero": false}, "axis": {"title": null, "values": [100,200,300,400,500,600,700,800], "format": "d"}},
    "y": {"field": "y", "type": "quantitative", "scale": {"domain": [0, 1], "nice": false}, "axis": {"title": null, "values": [0,0.1,0.2,0.3,0.4,0.5,0.6,0.7,0.8,0.9,1], "format": "~g", "minExtent": 31, "maxExtent": 31}}}},
  {"transform": [{"filter": "datum.y == 1"}], "mark": {"type": "text", "align": "left", "baseline": "middle", "dy": 15, "fontSize": 12, "font": "Liberation Sans"}, "encoding": {
    "x": {"field": "x", "type": "quantitative", "axis": {"title": null, "orient": "top", "labels": false, "values": [100,200,300,400,500,600,700,800], "minExtent": 0, "maxExtent": 0}},
    "y": {"field": "y", "type": "quantitative", "axis": {"title": null, "orient": "right", "labels": false, "values": [0,0.1,0.2,0.3,0.4,0.5,0.6,0.7,0.8,0.9,1], "minExtent": 0, "maxExtent": 0}},
    "text": {"field": "c"}}}
 ],
 "resolve": {"axis": {"x": "independent", "y": "independent"}}},
{"title": "Raio de Giracao", "width": 371, "height": 300,
 "transform": [{"filter": "datum.p == 8"}],
 "encoding": {"color": {"field": "c", "type": "nominal", "legend": null, "scale": {"domain": ["A","B","C","D","E"], "range": ["#ff0000","#0000ff","#ff00ff","#00ff00","#000000"]}}},
 "layer": [
  {"mark": "line", "encoding": {
    "x": {"field": "x", "type": "quantitative", "scale": {"domain": [1.8, 2.5], "nice": false, "zero": false}, "axis": {"title": null, "values": [1.8,1.9,2,2.1,2.2,2.3,2.4,2.5], "format": "~g"}},
    "y": {"field": "y", "type": "quantitative", "scale": {"domain": [0, 1], "nice": false}, "axis": {"title": null, "values": [0,0.1,0.2,0.3,0.4,0.5,0.6,0.7,0.8,0.9,1], "format": "~g", "minExtent": 31, "maxExtent": 31}}}},
  {"transform": [{"filter": "datum.y == 1"}], "mark": {"type": "text", "align": "left", "baseline": "middle", "dy": 15, "fontSize": 12, "font": "Liberation Sans"}, "encoding": {
    "x": {"field": "x", "type": "quantitative", "axis": {"title": null, "orient": "top", "labels": false, "values": [1.8,1.9,2,2.1,2.2,2.3,2.4,2.5], "minExtent": 0, "maxExtent": 0}},
    "y": {"field": "y", "type": "quantitative", "axis": {"title": null, "orient": "right", "labels": false, "values": [0,0.1,0.2,0.3,0.4,0.5,0.6,0.7,0.8,0.9,1], "minExtent": 0, "maxExtent": 0}},
    "text": {"field": "c"}}}
 ],
 "resolve": {"axis": {"x": "independent", "y": "independent"}}}
]}
]
}
